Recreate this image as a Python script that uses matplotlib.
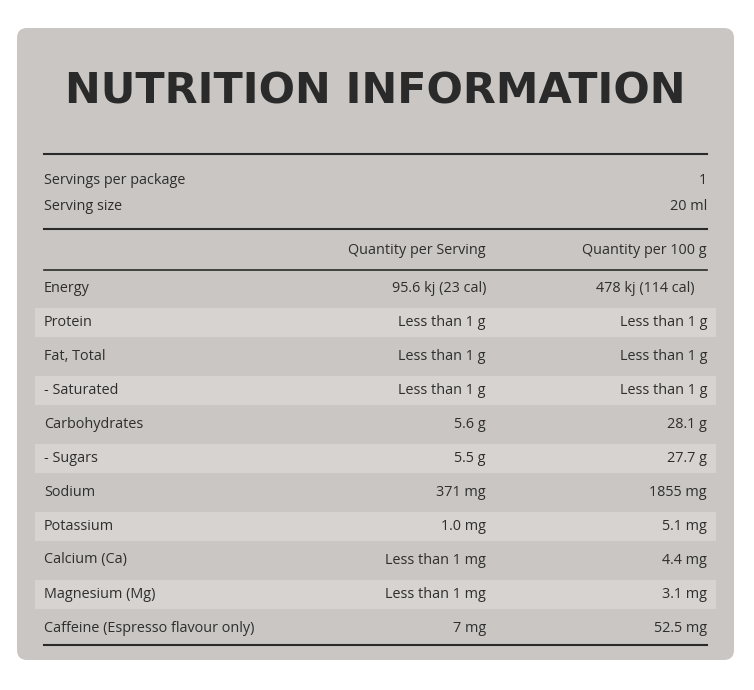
import matplotlib
matplotlib.use("Agg")
import matplotlib.pyplot as plt
from matplotlib.patches import FancyBboxPatch, Rectangle

title = "NUTRITION INFORMATION"
serving_labels = ["Servings per package", "Serving size"]
serving_values = ["1", "20 ml"]
headers = ["Quantity per Serving", "Quantity per 100 g"]
nutrients = ["Energy", "Protein", "Fat, Total", "- Saturated", "Carbohydrates", "- Sugars",
             "Sodium", "Potassium", "Calcium (Ca)", "Magnesium (Mg)", "Caffeine (Espresso flavour only)"]
per_serving = ["95.6 kj (23 cal)", "Less than 1 g", "Less than 1 g", "Less than 1 g", "5.6 g", "5.5 g",
               "371 mg", "1.0 mg", "Less than 1 mg", "Less than 1 mg", "7 mg"]
per_100g = ["478 kj (114 cal)", "Less than 1 g", "Less than 1 g", "Less than 1 g", "28.1 g", "27.7 g",
            "1855 mg", "5.1 mg", "4.4 mg", "3.1 mg", "52.5 mg"]

BG = "#c9c6c3"; BAND = "#d6d3d0"; TXT = "#2e2e2e"; DARK = "#2a2a2a"
fig = plt.figure(figsize=(7.54, 6.90), dpi=100)
ax = fig.add_axes([0, 0, 1, 1])
ax.set_xlim(0, 754); ax.set_ylim(690, 0); ax.axis("off")
ax.add_patch(FancyBboxPatch((17, 28), 717, 632, boxstyle="round,pad=0,rounding_size=10",
                            fc=BG, ec="none"))
t = ax.text(375, 92, title, ha="center", va="center", fontsize=46, fontweight="bold",
            family=["Liberation Sans Narrow", "DejaVu Sans"], color=DARK)
fig.canvas.draw()
bb = t.get_window_extent()
if bb.width > 625:
    t.set_fontsize(46 * 621 / bb.width)
fs = 10.4
fam = "Open Sans"
for y in (154, 229, 645):
    ax.plot([44, 707], [y, y], color=DARK, lw=1.5)
ax.plot([44, 707], [270, 270], color=DARK, lw=1.2)
for i, (l, v) in enumerate(zip(serving_labels, serving_values)):
    y = 180 + 27 * i
    ax.text(44, y, l, ha="left", va="center", fontsize=fs, family=fam, color=TXT, fontweight="medium")
    ax.text(707, y, v, ha="right", va="center", fontsize=fs, family=fam, color=TXT, fontweight="medium")
ax.text(486, 250, headers[0], ha="right", va="center", fontsize=fs, family=fam, color=TXT, fontweight="medium")
ax.text(707, 250, headers[1], ha="right", va="center", fontsize=fs, family=fam, color=TXT, fontweight="medium")
for i, n in enumerate(nutrients):
    y = 288 + 34 * i
    if i % 2 == 1:
        ax.add_patch(Rectangle((35, y - 14.5), 681, 29, fc=BAND, ec="none"))
    ax.text(44, y, n, ha="left", va="center", fontsize=fs, family=fam, color=TXT, fontweight="medium")
    ax.text(486, y, per_serving[i], ha="right", va="center", fontsize=fs, family=fam, color=TXT, fontweight="medium")
    if i == 0:
        ax.text(645, y, per_100g[i], ha="center", va="center", fontsize=fs, family=fam, color=TXT, fontweight="medium")
    else:
        ax.text(707, y, per_100g[i], ha="right", va="center", fontsize=fs, family=fam, color=TXT, fontweight="medium")
fig.savefig("out.png", dpi=100, facecolor="white")
